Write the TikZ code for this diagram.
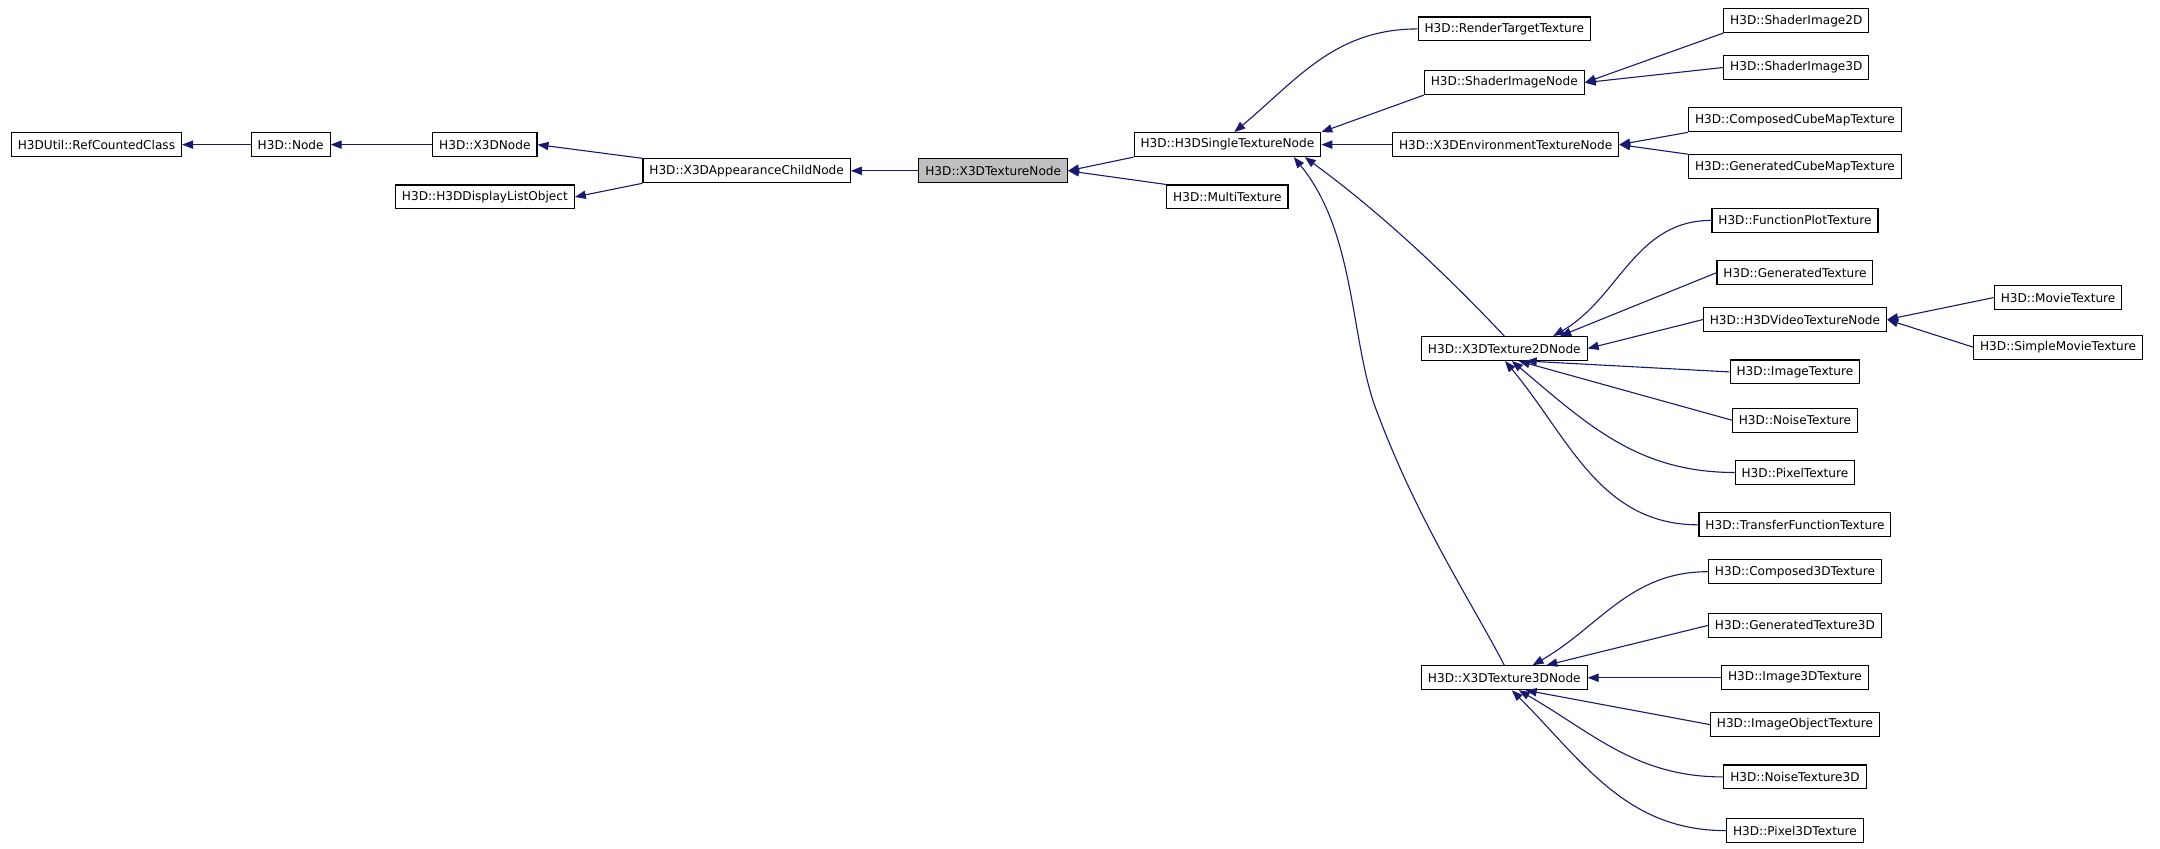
\documentclass[tikz,border=0pt]{standalone}
\usepackage{fontspec}
\setmainfont{DejaVu Sans}
\usetikzlibrary{arrows.meta}
\definecolor{edgec}{RGB}{25,25,112}
\definecolor{hl}{RGB}{191,191,191}
\begin{document}
\begin{tikzpicture}[x=0.75pt,y=-0.75pt,
  cls/.style={draw=black,fill=white,line width=0.6pt,font=\fontsize{6.6}{7}\selectfont,inner xsep=3.5pt,minimum height=13pt,inner ysep=0pt},
  edge/.style={draw=edgec,line width=0.6pt,{Triangle[length=6pt,width=4.5pt]}-}]
\useasboundingbox (0,0) rectangle (1568,616);
\node[cls] (rc) at (70,105) {H3DUtil::RefCountedClass};
\node[cls] (nd) at (211,105) {H3D::Node};
\node[cls] (x3d) at (352,105) {H3D::X3DNode};
\node[cls] (dl) at (352,143) {H3D::H3DDisplayListObject};
\node[cls] (ac) at (542,124) {H3D::X3DAppearanceChildNode};
\node[cls,fill=hl] (tn) at (721,124) {H3D::X3DTextureNode};
\node[cls] (st) at (891,105) {H3D::H3DSingleTextureNode};
\node[cls] (mt) at (891,143) {H3D::MultiTexture};
\node[cls] (rt) at (1092,21) {H3D::RenderTargetTexture};
\node[cls] (sin) at (1092,60) {H3D::ShaderImageNode};
\node[cls] (s2) at (1304,15) {H3D::ShaderImage2D};
\node[cls] (s3) at (1304,49) {H3D::ShaderImage3D};
\node[cls] (env) at (1093,105) {H3D::X3DEnvironmentTextureNode};
\node[cls] (ccm) at (1303,87) {H3D::ComposedCubeMapTexture};
\node[cls] (gcm) at (1303,121) {H3D::GeneratedCubeMapTexture};
\node[cls] (t2) at (1092,253) {H3D::X3DTexture2DNode};
\node[cls] (fp) at (1303,160) {H3D::FunctionPlotTexture};
\node[cls] (gt) at (1303,198) {H3D::GeneratedTexture};
\node[cls] (vt) at (1303,232) {H3D::H3DVideoTextureNode};
\node[cls] (mv) at (1494,216) {H3D::MovieTexture};
\node[cls] (smv) at (1494,252) {H3D::SimpleMovieTexture};
\node[cls] (it) at (1303,270) {H3D::ImageTexture};
\node[cls] (nt) at (1303,305) {H3D::NoiseTexture};
\node[cls] (pt) at (1303,343) {H3D::PixelTexture};
\node[cls] (tf) at (1303,381) {H3D::TransferFunctionTexture};
\node[cls] (t3) at (1092,492) {H3D::X3DTexture3DNode};
\node[cls] (c3) at (1303,415) {H3D::Composed3DTexture};
\node[cls] (g3) at (1303,454) {H3D::GeneratedTexture3D};
\node[cls] (i3) at (1303,492) {H3D::Image3DTexture};
\node[cls] (io) at (1303,526) {H3D::ImageObjectTexture};
\node[cls] (n3) at (1303,564) {H3D::NoiseTexture3D};
\node[cls] (p3) at (1303,603) {H3D::Pixel3DTexture};

\draw[edge] (rc) -- (nd);
\draw[edge] (nd) -- (x3d);
\draw[edge] (x3d.east) -- (ac.north west);
\draw[edge] (dl.east) -- (ac.south west);
\draw[edge] (ac) -- (tn);
\draw[edge] (tn.east) -- (st.south west);
\draw[edge] (tn.east) -- (mt.north west);
\draw[edge] (st.north) ++(5,0) coordinate (sa) to[out=40,in=180] (rt.west);
\draw[edge] (st.north east) -- (sin.south west);
\draw[edge] (sin.east) -- (s2.south west);
\draw[edge] (sin.east) -- (s3.west);
\draw[edge] (st) -- (env);
\draw[edge] (env.east) -- (ccm.south west);
\draw[edge] (env.east) -- (gcm.north west);
\draw[edge] (st.south east) ++(-12,0) coordinate (sb) .. controls (1010,160) and (1060,210) .. (t2.north);
\draw[edge] (st.south east) ++(-20,0) coordinate (sc) .. controls (985,170) and (980,250) .. (1000,300) .. controls (1030,380) and (1070,440) .. (t3.north);
\draw[edge] (t2.north east) ++(-25,0) coordinate (ta) to[out=30,in=180] (fp.west);
\draw[edge] (t2.north east) ++(-20,0) coordinate (tb) -- (gt.west);
\draw[edge] (t2.east) -- (vt.west);
\draw[edge] (vt.east) -- (mv.west);
\draw[edge] (vt.east) -- (smv.west);
\draw[edge] (t2.south east) ++(-45,0) coordinate (tc) -- (it.west);
\draw[edge] (t2.south east) ++(-50,0) coordinate (td) -- (nt.west);
\draw[edge] (t2.south east) ++(-55,0) coordinate (te) to[out=-40,in=180] (pt.west);
\draw[edge] (t2.south east) ++(-60,0) coordinate (tg) to[out=-50,in=180] (tf.west);
\draw[edge] (t3.north east) ++(-40,0) coordinate (ua) to[out=30,in=180] (c3.west);
\draw[edge] (t3.north east) ++(-30,0) coordinate (ub) -- (g3.west);
\draw[edge] (t3) -- (i3);
\draw[edge] (t3.south east) ++(-45,0) coordinate (uc) -- (io.west);
\draw[edge] (t3.south east) ++(-50,0) coordinate (ud) to[out=-30,in=180] (n3.west);
\draw[edge] (t3.south east) ++(-55,0) coordinate (ue) to[out=-45,in=180] (p3.west);
\end{tikzpicture}
\end{document}
